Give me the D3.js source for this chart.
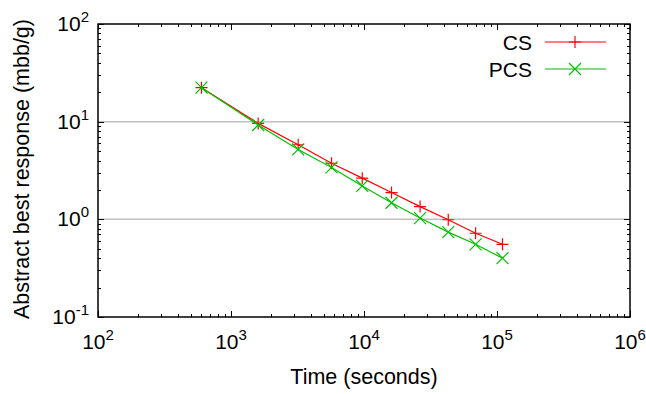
<!DOCTYPE html>
<html>
<head>
<meta charset="utf-8">
<script src="https://cdn.jsdelivr.net/npm/d3@7"></script>
<style>
  body { margin: 0; background: #fff; }
  text { font-family: "Liberation Sans", Arial, sans-serif; fill: #000; }
</style>
</head>
<body>
<svg id="svg"></svg>
<script>
var w = 646, h = 394;

// data
var times = [600, 1600, 3200, 5700, 9700, 16100, 26400, 43000, 69000, 110000];
var cs  = [22.3, 9.6, 5.8, 3.75, 2.64, 1.88, 1.35, 0.99, 0.72, 0.555];
var pcs = [22.3, 9.25, 5.2, 3.4, 2.2, 1.48, 1.03, 0.74, 0.555, 0.40];
var seriesNames = ["CS", "PCS"];
var xTickExps = [2, 3, 4, 5, 6];
var yTickExps = [-1, 0, 1, 2];
var gridExps = [0, 1];

var pLeft = 98, pRight = 630, pTop = 24, pBottom = 317;

var x = d3.scaleLog().domain([1e2, 1e6]).range([pLeft, pRight]);
var y = d3.scaleLog().domain([1e-1, 1e2]).range([pBottom, pTop]);

var svg = d3.select("#svg").attr("width", w).attr("height", h);

// grid
svg.selectAll("line.grid").data(gridExps).enter().append("line")
    .attr("class", "grid")
    .attr("x1", pLeft).attr("x2", pRight)
    .attr("y1", function(d) { return y(Math.pow(10, d)); })
    .attr("y2", function(d) { return y(Math.pow(10, d)); })
    .attr("stroke", "#c0c0c0").attr("stroke-width", 1.5);

// ticks (major + minor), mirrored on all sides
var major = 6, minor = 3;
var xt = [];
for (var e = 2; e <= 6; e++) {
    for (var m = 1; m <= 9; m++) {
        var v = m * Math.pow(10, e);
        if (v > 1e6) break;
        xt.push({v: v, len: m == 1 ? major : minor});
    }
}
var yt = [];
for (var e = -1; e <= 2; e++) {
    for (var m = 1; m <= 9; m++) {
        var v = m * Math.pow(10, e);
        if (v > 1e2) break;
        yt.push({v: v, len: m == 1 ? major : minor});
    }
}
var ticks = svg.append("g").attr("stroke", "#000").attr("stroke-width", 1);
xt.forEach(function(t) {
    var px = Math.round(x(t.v)) + 0.5;
    ticks.append("line").attr("x1", px).attr("x2", px).attr("y1", pBottom).attr("y2", pBottom - t.len);
    ticks.append("line").attr("x1", px).attr("x2", px).attr("y1", pTop).attr("y2", pTop + t.len);
});
yt.forEach(function(t) {
    var py = Math.round(y(t.v)) + 0.5;
    ticks.append("line").attr("x1", pLeft).attr("x2", pLeft + t.len).attr("y1", py).attr("y2", py);
    ticks.append("line").attr("x1", pRight).attr("x2", pRight - t.len).attr("y1", py).attr("y2", py);
});

// frame
svg.append("rect")
    .attr("x", pLeft).attr("y", pTop)
    .attr("width", pRight - pLeft).attr("height", pBottom - pTop)
    .attr("fill", "none").attr("stroke", "#000").attr("stroke-width", 1.5);

// tick labels
var xl = svg.selectAll("text.xl").data(xTickExps).enter().append("text")
    .attr("class", "xl")
    .attr("x", function(d) { return x(Math.pow(10, d)); })
    .attr("y", 349)
    .attr("text-anchor", "middle")
    .style("font-size", "21px");
xl.append("tspan").text("10");
xl.append("tspan").attr("dy", -9).style("font-size", "15px").text(function(d) { return d; });

var yl = svg.selectAll("text.yl").data(yTickExps).enter().append("text")
    .attr("class", "yl")
    .attr("x", 89)
    .attr("y", function(d) { return y(Math.pow(10, d)) + 7; })
    .attr("text-anchor", "end")
    .style("font-size", "21px");
yl.append("tspan").text("10");
yl.append("tspan").attr("dy", -9).style("font-size", "15px").text(function(d) { return d; });

// axis titles
svg.append("text")
    .attr("x", 364).attr("y", 384)
    .attr("text-anchor", "middle")
    .style("font-size", "21.5px")
    .text("Time (seconds)");
svg.append("text")
    .attr("transform", "translate(29,169)rotate(-90)")
    .attr("text-anchor", "middle")
    .style("font-size", "21.5px")
    .text("Abstract best response (mbb/g)");

// series
var line = d3.line()
    .x(function(d) { return x(d[0]); })
    .y(function(d) { return y(d[1]); });

var colors = ["#ff0000", "#00c000"];
var sets = [cs, pcs];
var s = 6;

var plus = function(g, px, py, c) {
    g.append("path")
        .attr("d", "M" + (px - s) + "," + py + "H" + (px + s) + "M" + px + "," + (py - s) + "V" + (py + s))
        .attr("stroke", c).attr("stroke-width", 1.2).attr("fill", "none");
};
var cross = function(g, px, py, c) {
    g.append("path")
        .attr("d", "M" + (px - s) + "," + (py - s) + "L" + (px + s) + "," + (py + s) +
                   "M" + (px - s) + "," + (py + s) + "L" + (px + s) + "," + (py - s))
        .attr("stroke", c).attr("stroke-width", 1.2).attr("fill", "none");
};
var markers = [plus, cross];

sets.forEach(function(vals, k) {
    var pts = times.map(function(t, i) { return [t, vals[i]]; });
    var g = svg.append("g");
    g.append("path")
        .datum(pts)
        .attr("d", line)
        .attr("fill", "none")
        .attr("stroke", colors[k])
        .attr("stroke-width", 1.2);
    pts.forEach(function(p) {
        markers[k](g, x(p[0]), y(p[1]), colors[k]);
    });
});

// legend
seriesNames.forEach(function(name, k) {
    var ly = 42 + k * 27;
    svg.append("text")
        .attr("x", 532).attr("y", ly + 8)
        .attr("text-anchor", "end")
        .style("font-size", "21px")
        .text(name);
    var g = svg.append("g");
    g.append("line")
        .attr("x1", 545).attr("x2", 606)
        .attr("y1", ly).attr("y2", ly)
        .attr("stroke", colors[k]).attr("stroke-width", 1.2);
    markers[k](g, 575, ly, colors[k]);
});
</script>
</body>
</html>
